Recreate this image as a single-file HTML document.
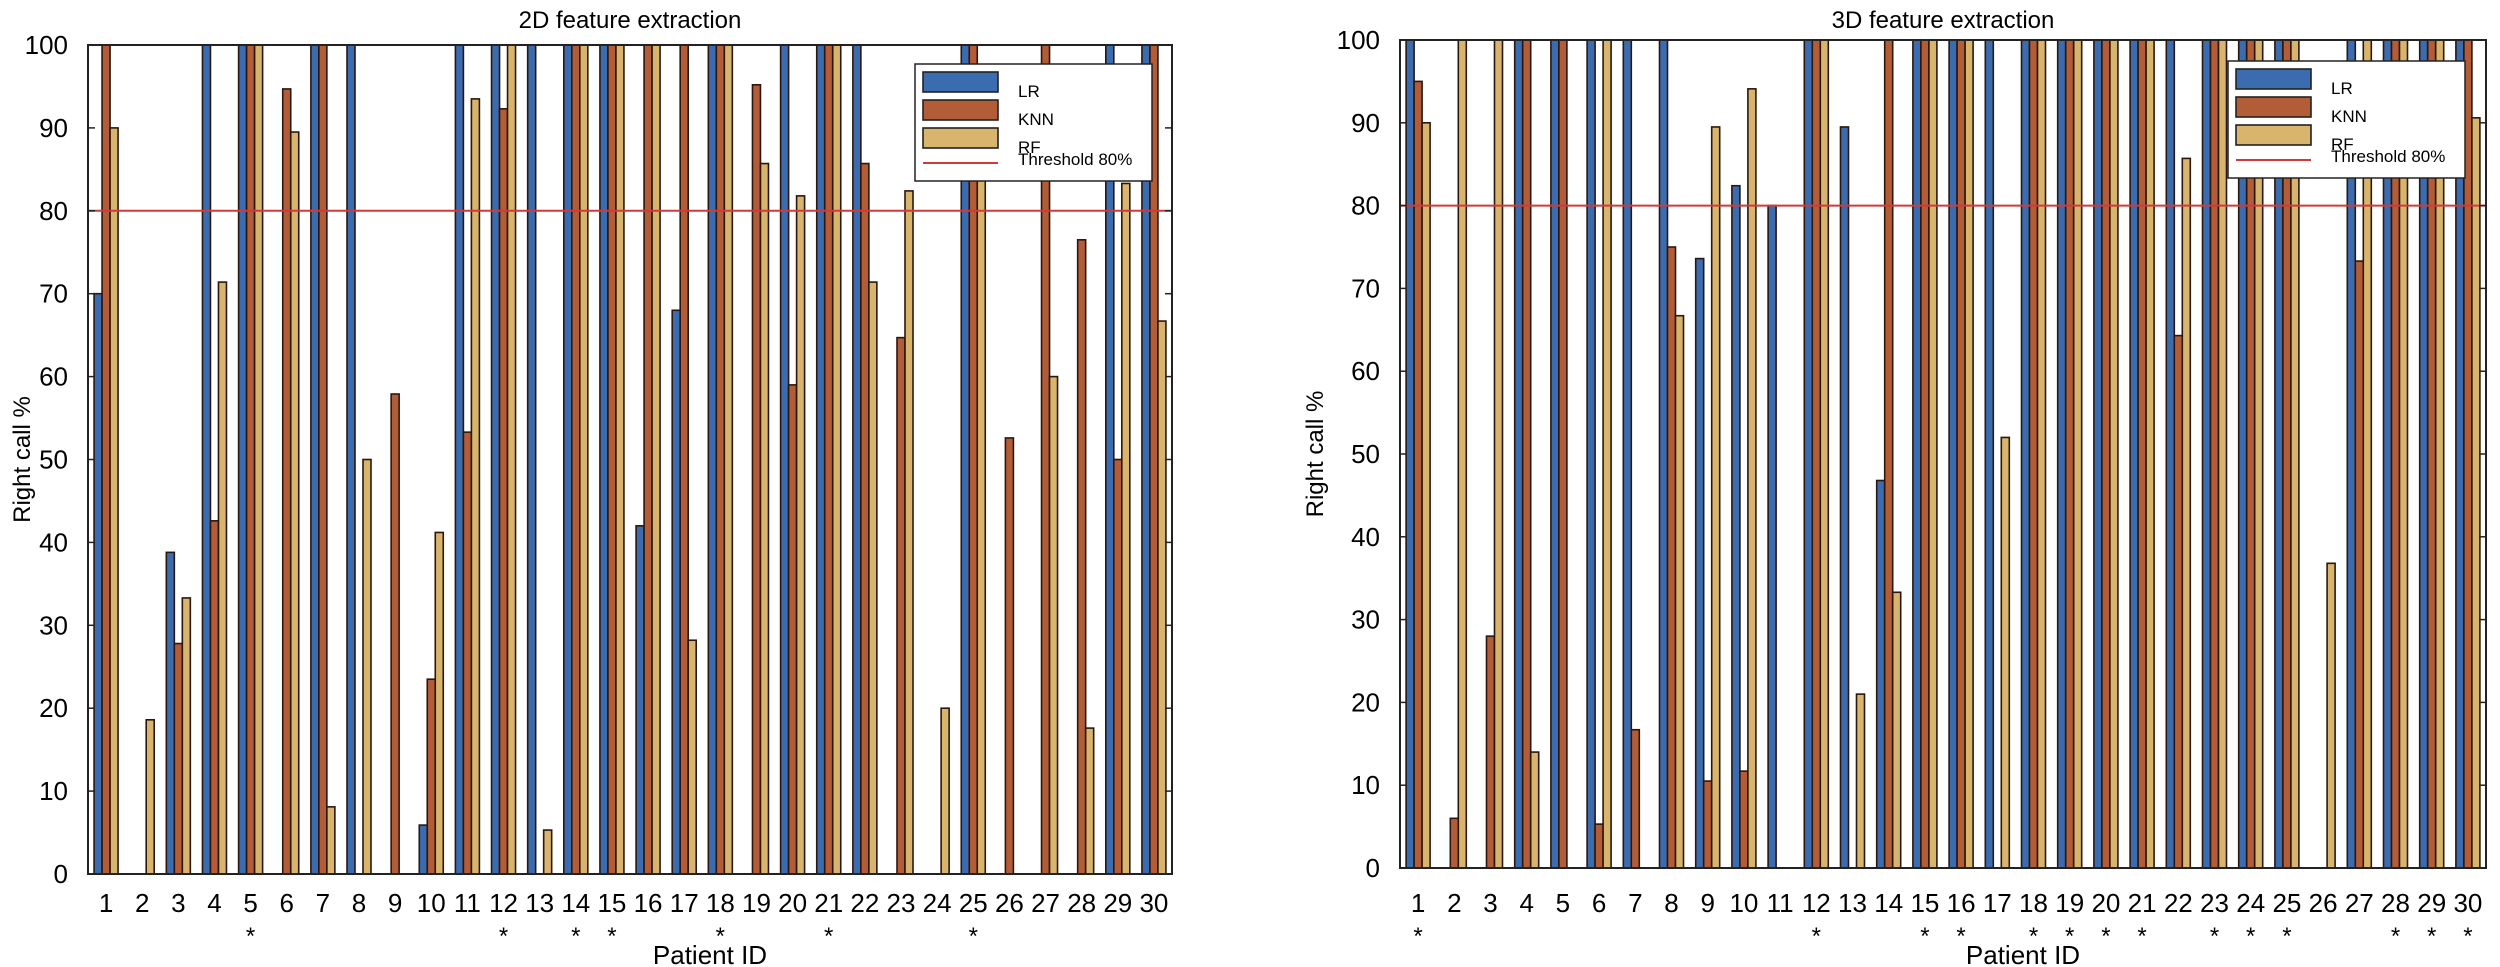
<!DOCTYPE html>
<html><head><meta charset="utf-8"><style>
html,body{margin:0;padding:0;background:#fff;}
svg{display:block;font-family:"Liberation Sans",sans-serif;}
</style></head><body>
<svg id="s" width="2500" height="967" viewBox="0 0 2500 967" xmlns="http://www.w3.org/2000/svg"></svg>
<script>
var L=[[70,100,90],[0,0,18.6],[38.8,27.8,33.3],[100,42.6,71.4],[100,100,100],[0,94.7,89.5],[100,100,8.1],[100,0,50],[0,57.9,0],[5.9,23.5,41.2],[100,53.3,93.5],[100,92.3,100],[100,0,5.3],[100,100,100],[100,100,100],[42,100,100],[68,100,28.2],[100,100,100],[0,95.2,85.7],[100,59,81.8],[100,100,100],[100,85.7,71.4],[0,64.7,82.4],[0,0,20],[100,100,84],[0,52.6,0],[0,100,60],[0,76.5,17.6],[100,50,83.3],[100,100,66.7]];
var R=[[100,95,90],[0,6,100],[0,28,100],[100,100,14],[100,100,0],[100,5.3,100],[100,16.7,0],[100,75,66.7],[73.6,10.5,89.5],[82.4,11.7,94.1],[80,0,0],[100,100,100],[89.5,0,21],[46.8,100,33.3],[100,100,100],[100,100,100],[100,0,52],[100,100,100],[100,100,100],[100,100,100],[100,100,100],[100,64.3,85.7],[100,100,100],[100,100,100],[100,100,100],[0,0,36.8],[100,73.3,100],[100,100,100],[100,100,100],[100,100,90.6]];
var SL=[5,12,14,15,18,21,25], SR=[1,12,15,16,18,19,20,21,23,24,25,28,29,30];
var C=["#3b6cb0","#b35c38","#d9b46c"];
var out="";
function chart(D,S,x0,x1,y0,y1,title,lx,ly,ylabx){
 var w=(x1-x0)/30,h=(y1-y0);
 function Y(v){return y1-v/100*h;}
 out+='<text x="'+((x0+x1)/2)+'" y="28" font-size="24" text-anchor="middle">'+title+'</text>';
 for(var i=0;i<30;i++){
  var cx=x0+(i+0.5)*w;
  for(var k=0;k<3;k++){
   var v=D[i][k]; if(v<=0) continue;
   var bx=cx-12+k*8;
   out+='<rect x="'+bx+'" y="'+Y(v)+'" width="8" height="'+(y1-Y(v))+'" fill="'+C[k]+'" stroke="#2a1810" stroke-width="1.6"/>';
  }
  out+='<text x="'+cx+'" y="912" font-size="26" text-anchor="middle">'+(i+1)+'</text>';
  if(S.indexOf(i+1)>=0) out+='<text x="'+cx+'" y="944" font-size="24" text-anchor="middle">*</text>';
 }
 out+='<line x1="'+x0+'" x2="'+x1+'" y1="'+Y(80)+'" y2="'+Y(80)+'" stroke="#d03a3a" stroke-width="2"/>';
 out+='<rect x="'+x0+'" y="'+y0+'" width="'+(x1-x0)+'" height="'+h+'" fill="none" stroke="#222" stroke-width="2"/>';
 for(var t=0;t<=100;t+=10){
  var yy=Y(t);
  out+='<line x1="'+x0+'" x2="'+(x0+7)+'" y1="'+yy+'" y2="'+yy+'" stroke="#222" stroke-width="1.5"/>';
  out+='<line x1="'+(x1-7)+'" x2="'+x1+'" y1="'+yy+'" y2="'+yy+'" stroke="#222" stroke-width="1.5"/>';
  out+='<text x="'+(x0-20)+'" y="'+(yy+9)+'" font-size="26" text-anchor="end">'+t+'</text>';
 }
 out+='<text transform="translate('+ylabx+','+((y0+y1)/2)+') rotate(-90)" font-size="24" text-anchor="middle">Right call %</text>';
 out+='<text x="'+((x0+x1)/2+80)+'" y="964" font-size="26" text-anchor="middle">Patient ID</text>';
 // legend
 out+='<rect x="'+lx+'" y="'+ly+'" width="237" height="117" fill="#fff" stroke="#222" stroke-width="1.5"/>';
 var names=["LR","KNN","RF"];
 for(var k=0;k<3;k++){
  var ry=ly+8+k*28;
  out+='<rect x="'+(lx+8)+'" y="'+ry+'" width="75" height="20" fill="'+C[k]+'" stroke="#222" stroke-width="1.6"/>';
  out+='<text x="'+(lx+103)+'" y="'+(ry+25)+'" font-size="17">'+names[k]+'</text>';
 }
 out+='<line x1="'+(lx+8)+'" x2="'+(lx+83)+'" y1="'+(ly+99)+'" y2="'+(ly+99)+'" stroke="#d03a3a" stroke-width="2"/>';
 out+='<text x="'+(lx+103)+'" y="'+(ly+101)+'" font-size="17">Threshold 80%</text>';
}
chart(L,SL,88,1172,45,874,"2D feature extraction",915,64,30);
chart(R,SR,1400,2486,40,868,"3D feature extraction",2228,61,1323);
document.getElementById("s").innerHTML=out;
</script>
</body></html>
